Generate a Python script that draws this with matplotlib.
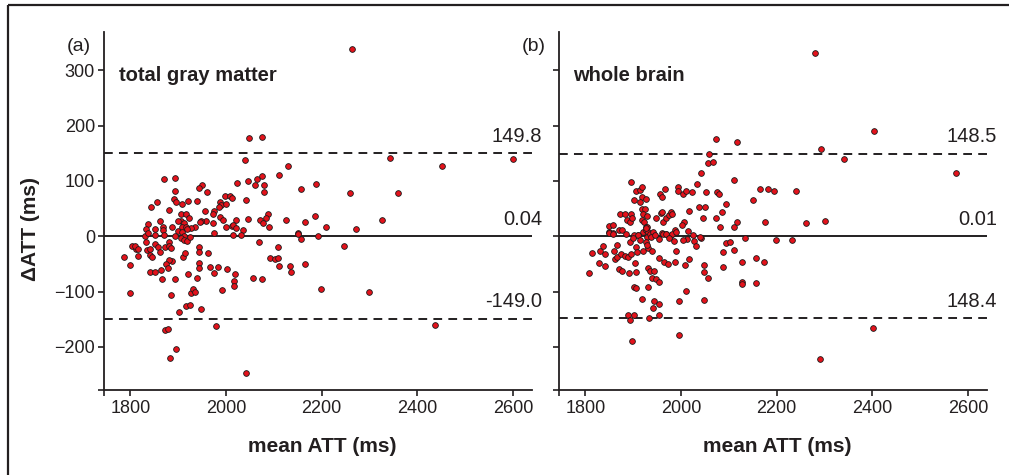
import matplotlib
matplotlib.use("Agg")
import matplotlib.pyplot as plt
from matplotlib.lines import Line2D
from matplotlib.transforms import blended_transform_factory

plt.rcParams['font.family'] = ['Liberation Sans', 'DejaVu Sans']

# Panel (a): total gray matter  -- mean ATT (ms), delta ATT (ms)
gm_mean = [2264, 2048, 2075, 2344, 2600, 2451, 2040, 2129, 2111, 1871, 1894, 2024, 2046,
           2064, 2075, 2079, 2080, 2061, 2041, 2156, 2188, 2259, 2359, 1950, 1944, 1894,
           1892, 1896, 1907, 1855, 1844, 1880, 1920, 1940, 1960, 1988, 1990, 1986, 1999,
           2009, 2013, 2000, 2088, 2083, 2072, 2078, 2090, 2126, 2165, 2151, 2156, 2187,
           2209, 2192, 2271, 2326, 1905, 1917, 1923, 1906, 1912, 1861, 1852, 1836, 1833,
           1830, 1868, 1869, 1888, 1899, 1900, 1956, 1974, 1973, 1973, 1975, 1958, 1948,
           1945, 1935, 1926, 1988, 1994, 2000, 2013, 2022, 2014, 2021, 2036, 2047, 1908,
           1916, 1918, 1908, 1913,
           1786, 1799, 1800, 1811, 1803, 1809, 1815, 1816, 1833, 1834, 1842, 1842, 1846,
           1841, 1851, 1852, 1857, 1862, 1867, 1865, 1873, 1881, 1880, 1885, 1888, 1881,
           1875, 1879, 1894, 1886, 1873, 1878, 1896, 1883, 1901, 1917, 1925, 1948, 1927,
           1932, 1935, 1921, 1910, 1915, 1944, 1943, 1944, 1944, 1939, 1963, 1967, 1975,
           1984, 1980, 1991, 2003, 2019, 2017, 2016, 2042, 2056, 2075, 2069, 2093, 2102,
           2108, 2109, 2111, 2134, 2136, 2165, 2198, 2247, 2299, 2438,
           1836, 1851, 1870, 1893, 1905, 1912, 1918, 1925, 2015, 2031, 2150]
gm_diff = [339, 178, 180, 142, 140, 127, 137, 126, 111, 104, 106, 96, 99,
           104, 108, 92, 80, 92, 66, 86, 94, 78, 78, 93, 87, 81,
           67, 62, 58, 61, 52, 48, 63, 64, 80, 61, 57, 52, 73,
           73, 69, 58, 41, 32, 30, 23, 16, 30, 25, 6, -5, 36,
           17, 0, 13, 30, 40, 41, 33, 28, 24, 28, 13, 22, 13,
           0, 17, 11, 16, 27, 9, 46, 46, 40, 24, 5, 28, 28,
           25, 17, 15, 34, 30, 16, 19, 30, 21, 14, 12, 31, 17,
           16, 13, 7, 1,
           -37, -52, -102, -24, -17, -17, -24, -36, -11, -25, -24, -34, -37,
           -64, -64, -14, -19, -29, -77, -61, -19, -11, -17, -21, -44, -43,
           -50, -58, -77, -107, -170, -167, -203, -221, -137, -126, -125, -131, -103,
           -95, -101, -69, -38, -30, -19, -28, -48, -58, -76, -30, -55, -66,
           -56, -163, -98, -59, -68, -81, -90, -248, -75, -77, -11, -39, -42,
           -19, -40, -54, -53, -64, -51, -95, -18, -101, -161,
           6, 3, 2, 1, -3, -6, -8, -2, 2, 2, 4]

# Panel (b): whole brain
wb_mean = [2281, 2403, 2293, 2341, 2575, 2073, 2117, 2059, 2056, 2068, 2043, 2034, 2110,
           2151, 2166, 2183, 2194, 2240, 2052, 2075, 2080, 2095, 2085, 2074, 2081, 2110,
           2117, 2175, 2261, 2302, 2038, 2050, 2046, 2016, 1993, 1993, 2005, 2011, 2023,
           2007, 2003, 2015, 1895, 1905, 1914, 1918, 1918, 1902, 1914, 1927, 1956, 1966,
           1960, 1918, 1925, 1921, 1929, 1872, 1884, 1895, 1888, 1893, 1898, 1919, 1923,
           1926, 1947, 1959, 1961, 1963, 1968, 1974, 1979, 1982, 1961, 1968, 1980, 1988,
           1849, 1857, 1849, 1857, 1870, 1877, 1886, 1902, 1910, 1920, 1927, 1932, 1928,
           1929, 1926,
           1808, 1813, 1828, 1831, 1838, 1841, 1841, 1849, 1857, 1866, 1860, 1863, 1867,
           1870, 1876, 1875, 1882, 1891, 1889, 1894, 1895, 1904, 1905, 1907, 1909, 1902,
           1911, 1902, 1907, 1918, 1890, 1901, 1893, 1898, 1921, 1931, 1940, 1932, 1936,
           1944, 1939, 1947, 1954, 1931, 1943, 1941, 1933, 1954, 1954, 1926, 1929, 1936,
           1942, 1955, 1954, 1962, 1969, 1982, 1989, 1965, 1973, 1987, 1989, 1995, 1995,
           2009, 2011, 2012, 2016, 2028, 2032, 2042, 2049, 2048, 2057, 2048, 2087, 2088,
           2094, 2103, 2111, 2128, 2127, 2128, 2133, 2158, 2173, 2157, 2198, 2232, 2291,
           2402,
           1900, 1915, 1937, 1945, 1975, 1985, 2005, 2025, 2040]
wb_diff = [331, 191, 157, 139, 115, 176, 170, 148, 133, 134, 114, 95, 102,
           66, 85, 85, 82, 82, 79, 79, 77, 58, 43, 33, 17, 17,
           25, 26, 23, 28, 52, 52, 33, 46, 89, 82, 76, 82, 79,
           26, 20, 10, 98, 82, 83, 89, 71, 66, 61, 67, 77, 85,
           71, 49, 49, 40, 36, 40, 41, 41, 29, 25, 32, 29, 25,
           17, 32, 42, 44, 25, 32, 38, 44, 40, 5, 4, 3, 11,
           19, 21, 7, 5, 11, 11, 4, 1, 2, 8, 11, 7, -1,
           17, 15,
           -67, -30, -48, -26, -17, -33, -53, 6, 4, -16, -27, -41, -38,
           -59, -62, -32, -35, -67, -38, -11, -32, -49, -65, -20, -28, 2,
           2, -91, -93, -113, -142, -143, -152, -190, -26, -21, -26, -58, -62,
           -62, -75, -78, -83, -91, -118, -130, -147, -122, -143, -10, -16, 4,
           8, -5, -40, 4, 4, 4, 8, -47, -50, -47, -26, -117, -179,
           -52, -99, -5, -42, -8, -17, -3, -52, -64, -75, -116, -28, -55,
           -13, -10, -25, -47, -82, -87, -4, -39, -47, -85, -7, -6, -222,
           -166,
           -3, -6, -2, 2, -4, -8, -6, 3, -2]

gm_lines = [149.8, 0.04, -149.0]
gm_labels = ['149.8', '0.04', '-149.0']
wb_lines = [148.5, 0.01, -148.4]
wb_labels = ['148.5', '0.01', '148.4']

ink = '#231f20'
xlim = (1745, 2640)
ylim = (-278, 369)

fig = plt.figure(figsize=(10.09, 4.75), dpi=100)
ax_a = fig.add_axes([0.1031, 0.1789, 0.4242, 0.7537])
ax_b = fig.add_axes([0.5540, 0.1789, 0.4242, 0.7537])

panels = [
    (ax_a, gm_mean, gm_diff, gm_lines, gm_labels, 'total gray matter', '(a)', True),
    (ax_b, wb_mean, wb_diff, wb_lines, wb_labels, 'whole brain', '(b)', False),
]

for ax, xs, ys, lines, labels, title, tag, show_y in panels:
    ax.set_xlim(*xlim)
    ax.set_ylim(*ylim)
    # mean line solid, limits of agreement dashed
    for i, (v, lab) in enumerate(zip(lines, labels)):
        ls = '-' if i == 1 else (0, (4.5, 3.2))
        ax.axhline(v, color=ink, lw=1.4, ls=ls, zorder=1)
        tr = blended_transform_factory(ax.transAxes, ax.transData)
        ax.annotate(lab, xy=(1.023, v), xycoords=tr, xytext=(0, 5.5),
                    textcoords='offset points', ha='right', va='bottom',
                    fontsize=14.5, color=ink, annotation_clip=False)
    ax.scatter(xs, ys, s=17, c='#e3121b', edgecolors='#1a1a1a', linewidths=0.6, zorder=3)

    for side in ['top', 'right']:
        ax.spines[side].set_visible(False)
    for side in ['left', 'bottom']:
        ax.spines[side].set_color(ink)
        ax.spines[side].set_linewidth(1.3)

    ax.set_xticks([1800, 2000, 2200, 2400, 2600])
    ax.set_xticks([xlim[0]], minor=True)
    ax.set_yticks([-200, -100, 0, 100, 200, 300])
    ax.set_yticks([ylim[0]], minor=True)
    ax.set_yticklabels(['\u2212200', '\u2212100', '0', '100', '200', '300'] if show_y else [])
    ax.tick_params(which='both', direction='out', length=4.5, width=1.2, color=ink,
                   labelsize=13, labelcolor=ink)
    ax.tick_params(axis='x', pad=3)
    ax.tick_params(axis='y', pad=2)

    ax.set_xlabel('mean ATT (ms)', fontsize=15, fontweight='bold', color=ink)
    ax.xaxis.set_label_coords(0.51, -0.13)
    if show_y:
        ax.set_ylabel('\u0394ATT (ms)', fontsize=15, fontweight='bold', color=ink)
        ax.yaxis.set_label_coords(-0.15, 0.45)

    ax.text(0.034, 0.878, title, transform=ax.transAxes, fontsize=14.5, fontweight='bold',
            color=ink, ha='left', va='center')
    ax.text(-0.058, 0.96, tag, transform=ax.transAxes, fontsize=14, color=ink,
            ha='center', va='center')

# partial frame around the figure (top and left edges)
fig.add_artist(Line2D([8 / 1009, 1.0], [1 - 5 / 475, 1 - 5 / 475],
                      transform=fig.transFigure, color=ink, lw=1.6,
                      solid_capstyle='butt'))
fig.add_artist(Line2D([8 / 1009, 8 / 1009], [0.0, 1 - 5 / 475],
                      transform=fig.transFigure, color=ink, lw=1.6,
                      solid_capstyle='butt'))

fig.savefig('out.png', dpi=100)
